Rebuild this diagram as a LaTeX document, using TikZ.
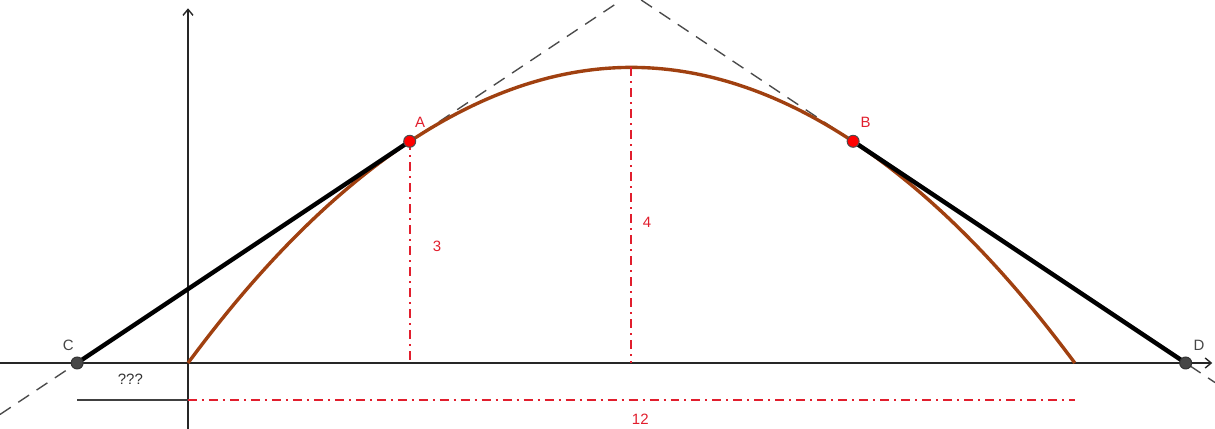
\documentclass[tikz,border=0pt]{standalone}
\usepackage{fontspec}
\setmainfont{Liberation Sans}
\usetikzlibrary{arrows.meta}
\definecolor{arcbrown}{RGB}{160,64,16}
\definecolor{measred}{RGB}{225,30,45}
\definecolor{ptgray}{RGB}{70,70,70}
\begin{document}
\begin{tikzpicture}[x=2.6cm, y=2.6cm,
    every node/.style={font=\fontsize{15}{18}\selectfont},
    axis/.style={line width=1.4pt, draw=black!85, -{Straight Barb[length=6pt,width=10pt]}},
    tangent/.style={line width=1.4pt, draw=black!70, dash pattern=on 13pt off 9pt},
    arcline/.style={line width=3.4pt, draw=arcbrown},
    measure/.style={line width=2pt, draw=measred, dash pattern=on 9pt off 5pt on 2pt off 5pt},
    segline/.style={line width=4.4pt, draw=black},
    ptred/.style={circle, fill=red, draw=black!70, line width=1pt, inner sep=0pt, minimum size=12pt},
    ptdark/.style={circle, fill=ptgray, draw=black!80, line width=1pt, inner sep=0pt, minimum size=12pt},
    measlabel/.style={text=measred}]
\useasboundingbox (-2.544,-0.893) rectangle (13.897,4.912);
% Points
\coordinate (O) at (0,0);
\coordinate (A) at (3,3);
\coordinate (B) at (9,3);
\coordinate (C) at (-1.5,0);
\coordinate (D) at (13.5,0);
\coordinate (P) at (6,4);
\coordinate (E) at (12,0);
\coordinate (Ax) at (3,0);
\coordinate (Px) at (6,0);

% Axes
\coordinate (xl) at (-2.544,0);
\coordinate (xr) at (13.86,0);
\coordinate (yb) at (0,-0.893);
\coordinate (yt) at (0,4.80);
\draw[axis] (xl) -- (xr);
\draw[axis] (yb) -- (yt);

% Tangent lines
\coordinate (tla) at (-2.544,-0.696);
\coordinate (tlb) at (5.868,4.912);
\coordinate (tra) at (6.132,4.912);
\coordinate (trb) at (13.897,-0.265);
\draw[tangent] (tla) -- (tlb);
\draw[tangent] (tra) -- (trb);

% Arc
\draw[arcline] (O) parabola bend (P) (E);

% Measures
\coordinate (mL) at (0,-0.5);
\coordinate (mR) at (12,-0.5);
\coordinate (mC) at (-1.5,-0.5);
\draw[measure] (A) -- (Ax);
\draw[measure] (P) -- (Px);
\draw[measure] (mL) -- (mR);
\draw[line width=2pt, draw=black!75] (mC) -- (mL);

% Segments
\draw[segline] (C) -- (A);
\draw[segline] (B) -- (D);

% Dots
\node[ptred] (dA) at (A) {};
\node[ptred] (dB) at (B) {};
\node[ptdark] (dC) at (C) {};
\node[ptdark] (dD) at (D) {};

% Labels
\node[text=measred] (lA) at (3.14,3.26) {A};
\node[text=measred] (lB) at (9.17,3.26) {B};
\node[text=ptgray] (lC) at (-1.62,0.24) {C};
\node[text=ptgray] (lD) at (13.68,0.24) {D};
\node[measlabel] (l3) at (3.37,1.58) {3};
\node[measlabel] (l4) at (6.21,1.90) {4};
\node[measlabel] (l12) at (6.12,-0.76) {12};
\node[text=black!80] (lq) at (-0.78,-0.22) {???};
\end{tikzpicture}
\end{document}
